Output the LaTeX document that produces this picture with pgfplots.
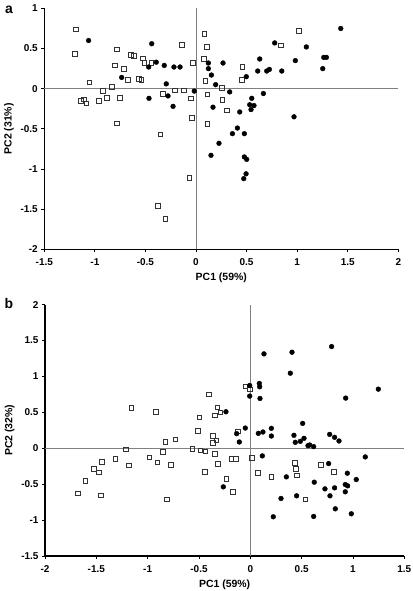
\documentclass[border=0pt]{standalone}
\usepackage{fontspec}
\setmainfont{Liberation Sans}
\usepackage{pgfplots}
\usepackage{pgfplotstable}
\pgfplotsset{compat=1.18}

\pgfplotstableread{
x y
-1.187 0.74
-1.197 0.436
-1.055 0.08
-1.137 -0.15
-1.108 -0.13
-1.085 -0.18
-0.959 -0.15
-0.920 -0.025
-0.883 -0.11
-0.831 0.025
-0.801 0.29
-0.784 0.49
-0.752 -0.11
-0.784 -0.43
-0.712 0.25
-0.676 0.11
-0.643 0.42
-0.613 0.41
-0.567 0.12
-0.541 0.11
-0.527 0.38
-0.511 0.32
-0.442 0.32
-0.353 -0.57
-0.330 -0.06
-0.211 -0.02
-0.142 0.55
-0.119 -0.02
-0.049 -0.12
-0.040 -0.36
-0.030 0.32
0.082 0.68
0.106 0.52
0.079 0.37
0.092 0.10
0.112 -0.07
0.112 -0.44
0.254 0.01
0.26 -0.14
0.303 -0.27
0.458 0.27
0.455 0.11
1.016 0.72
0.841 0.54
-0.066 -1.11
-0.376 -1.46
-0.303 -1.62
}\aopen

\pgfplotstableread{
x y
-1.062 0.60
-0.438 0.56
-0.393 0.33
-0.468 0.27
-0.314 0.29
-0.218 0.27
-0.158 0.27
-0.735 0.14
-0.294 0.06
-0.465 -0.12
-0.277 -0.09
-0.227 -0.22
-0.017 -0.03
0.122 0.32
0.122 0.25
0.152 0.17
0.267 0.32
0.194 0.05
0.333 -0.04
0.551 -0.12
0.168 -0.23
0.531 -0.20
0.573 -0.21
0.544 -0.26
0.432 -0.29
0.666 -0.06
0.497 0.15
0.610 0.22
0.630 0.37
0.699 0.22
0.725 0.24
0.848 0.22
0.778 0.57
0.982 0.35
1.091 0.52
1.431 0.75
1.253 0.25
1.263 0.39
1.289 0.39
0.969 -0.35
0.409 -0.49
0.360 -0.56
0.478 -0.56
0.227 -0.68
0.148 -0.83
0.478 -0.85
0.501 -0.88
0.495 -1.06
0.472 -1.12
}\afill

\pgfplotstableread{
x y
-1.682 -0.625
-1.607 -0.454
-1.526 -0.282
-1.477 -0.333
-1.458 -0.653
-1.445 -0.190
-1.315 -0.144
-1.211 -0.014
-1.185 -0.236
-0.984 -0.125
-0.922 0.51
-1.159 0.565
-0.906 -0.194
-0.854 -0.051
-0.828 0.093
-0.812 -0.713
-0.773 -0.231
-0.731 0.125
-0.565 -0.005
-0.510 0.241
-0.487 -0.028
-0.445 -0.329
-0.438 -0.042
-0.364 0.171
-0.364 0.074
-0.331 0.111
-0.344 -0.079
-0.315 -0.213
-0.234 -0.426
-0.185 -0.144
-0.169 -0.602
-0.140 -0.144
-0.120 0.236
0.013 -0.130
0.071 -0.343
0.205 -0.394
0.432 -0.199
0.445 -0.287
0.451 -0.375
0.536 -0.713
0.685 -0.227
0.812 -0.324
-0.497 0.433
-0.049 0.861
-0.003 0.824
-0.406 0.75
-0.321 0.569
-0.292 0.5
-0.347 0.458
}\bopen

\pgfplotstableread{
x y
-0.263 -0.537
-0.133 0.204
-0.107 0.088
-0.049 0.282
0.078 0.208
0.123 0.227
0.117 -0.106
0.205 0.278
0.205 0.171
0.299 -0.699
0.224 -0.954
0.351 -0.398
0.425 0.181
0.438 0.083
0.451 -0.662
0.487 0.097
0.510 0.347
0.523 0.139
0.562 0.037
0.578 0.046
0.617 0.023
0.623 -0.472
0.617 -0.949
0.727 -0.565
0.763 -0.213
0.776 -0.662
0.773 0.194
0.821 0.153
0.828 -0.843
0.821 -0.551
0.864 0.102
0.925 -0.606
0.925 -0.505
0.948 -0.523
0.945 -0.347
0.984 -0.912
1.032 -0.435
1.120 -0.120
0.133 1.315
0.406 1.338
0.792 1.417
0.390 1.046
0.088 0.903
0.091 0.856
-0.006 0.875
-0.006 0.727
0.094 0.694
1.247 0.824
0.929 0.699
-0.237 0.509
}\bfill

\pgfplotsset{
  pcastyle/.style={
    scale only axis,
    anchor=south west,
    axis x line*=bottom,
    axis y line*=left,
    axis line style={black, line width=1.2bp},
    tick align=outside,
    major tick length=3bp,
    tick style={black, line width=0.8bp},
    /pgf/number format/assume math mode=true,
    /pgf/number format/fixed,
    ticklabel style={font=\bfseries\fontsize{10}{12}\selectfont},
    xticklabel style={yshift=-3bp},
    label style={font=\bfseries\fontsize{10.5}{12}\selectfont},
    xlabel style={yshift=-0.5bp},
    clip=false,
  },
  openmark/.style={only marks, mark=square, mark size=2.3bp, mark options={draw=black!80, line width=0.6bp, fill=white}},
  fillmark/.style={only marks, mark=*, mark size=2.4bp, mark options={draw=black, fill=black}},
}

\begin{document}
\begin{tikzpicture}
\useasboundingbox (0,0) rectangle (413bp,591bp);

\begin{axis}[pcastyle,
  at={(44.3bp,341.7bp)}, width=354bp, height=240.9bp,
  xmin=-1.5, xmax=2, ymin=-2, ymax=1,
  xtick={-1.5,-1,-0.5,0,0.5,1,1.5,2},
  ytick={-2,-1.5,-1,-0.5,0,0.5,1},
  xlabel={PC1 (59\%)}, ylabel={PC2 (31\%)},
]
\draw[gray, line width=0.8bp] (axis cs:-1.5,0) -- (axis cs:2,0);
\draw[gray, line width=0.8bp] (axis cs:0,-2) -- (axis cs:0,1);
\addplot[openmark] table[x=x,y=y] {\aopen};
\addplot[fillmark] table[x=x,y=y] {\afill};
\end{axis}

\begin{axis}[pcastyle,
  at={(45bp,35bp)}, width=359.3bp, height=251.3bp,
  xmin=-2, xmax=1.5, ymin=-1.5, ymax=2,
  xtick={-2,-1.5,-1,-0.5,0,0.5,1,1.5},
  ytick={-1.5,-1,-0.5,0,0.5,1,1.5,2},
  xlabel={PC1 (59\%)}, ylabel={PC2 (32\%)},
]
\draw[gray, line width=0.8bp] (axis cs:-2,0) -- (axis cs:1.5,0);
\draw[gray, line width=0.8bp] (axis cs:0,-1.5) -- (axis cs:0,2);
\addplot[openmark] table[x=x,y=y] {\bopen};
\addplot[fillmark] table[x=x,y=y] {\bfill};
\end{axis}

\node[font=\bfseries\fontsize{14}{16}\selectfont, anchor=center] at (9bp,581bp) {a};
\node[font=\bfseries\fontsize{14}{16}\selectfont, anchor=center] at (9bp,287bp) {b};
\end{tikzpicture}
\end{document}
